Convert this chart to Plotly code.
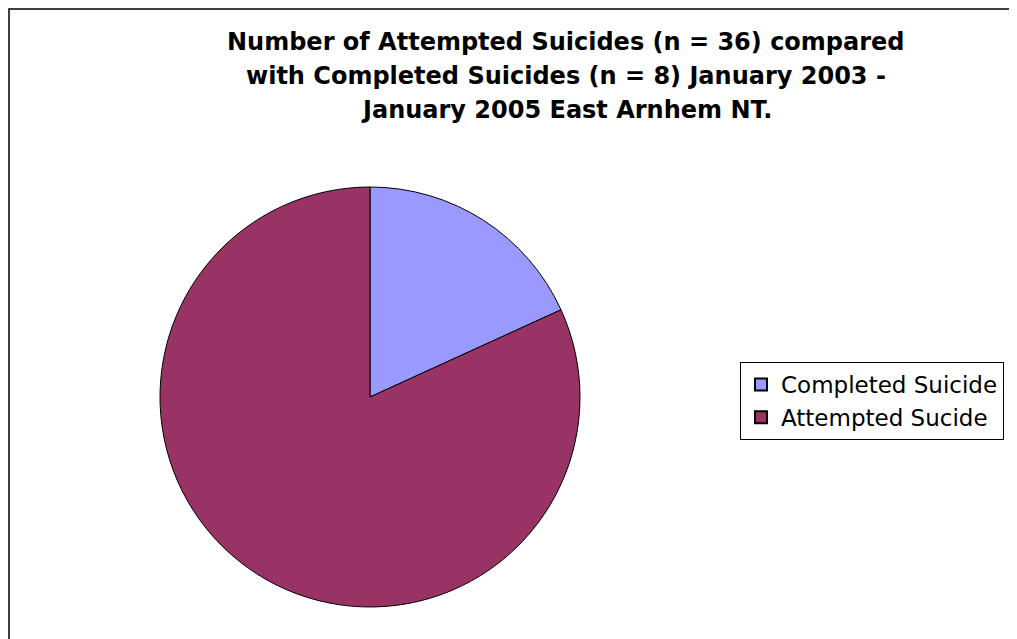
import plotly.graph_objects as go

labels = ["Completed Suicide", "Attempted Sucide"]
values = [8, 36]
colors = ["#9999FF", "#993366"]
title_lines = [
    "Number of Attempted Suicides (n = 36) compared",
    "with Completed Suicides (n = 8) January 2003 -",
    "January 2005 East Arnhem NT.",
]

W, H = 1017, 639
OFF = 8  # page body margin
FONT = "DejaVu Sans, Liberation Sans, Arial, sans-serif"
fig = go.Figure(go.Pie(
    labels=labels, values=values, sort=False, direction="clockwise", rotation=0,
    marker=dict(colors=colors, line=dict(color="black", width=1)),
    textinfo="none", hoverinfo="label+value",
    domain=dict(x=[152 / W, 572 / W], y=[1 - 599 / H, 1 - 179 / H]),
))
title_y = [42, 76, 110]
fig.update_layout(
    width=W, height=H,
    margin=dict(l=0, r=0, t=0, b=0),
    paper_bgcolor="white", plot_bgcolor="white",
    font=dict(family=FONT, color="black"),
    annotations=[dict(
        text="<b>" + line + "</b>", x=(566 - OFF) / W, y=1 - (yy - OFF) / H,
        xref="paper", yref="paper",
        xanchor="center", yanchor="middle", showarrow=False, align="center",
        font=dict(size=24, family=FONT, color="black"),
    ) for line, yy in zip(title_lines, title_y)],
    legend=dict(
        x=(740 - OFF) / W, y=1 - (362 - OFF) / H, xanchor="left", yanchor="top",
        bordercolor="black", borderwidth=1, bgcolor="white",
        font=dict(size=23, family=FONT, color="black"),
        itemsizing="constant",
    ),
    shapes=[dict(type="rect", xref="paper", yref="paper",
                 x0=1 / W, x1=1.02, y0=-0.02, y1=1 - 1 / H,
                 line=dict(color="black", width=1.5))],
)
fig.write_html("out.html")
